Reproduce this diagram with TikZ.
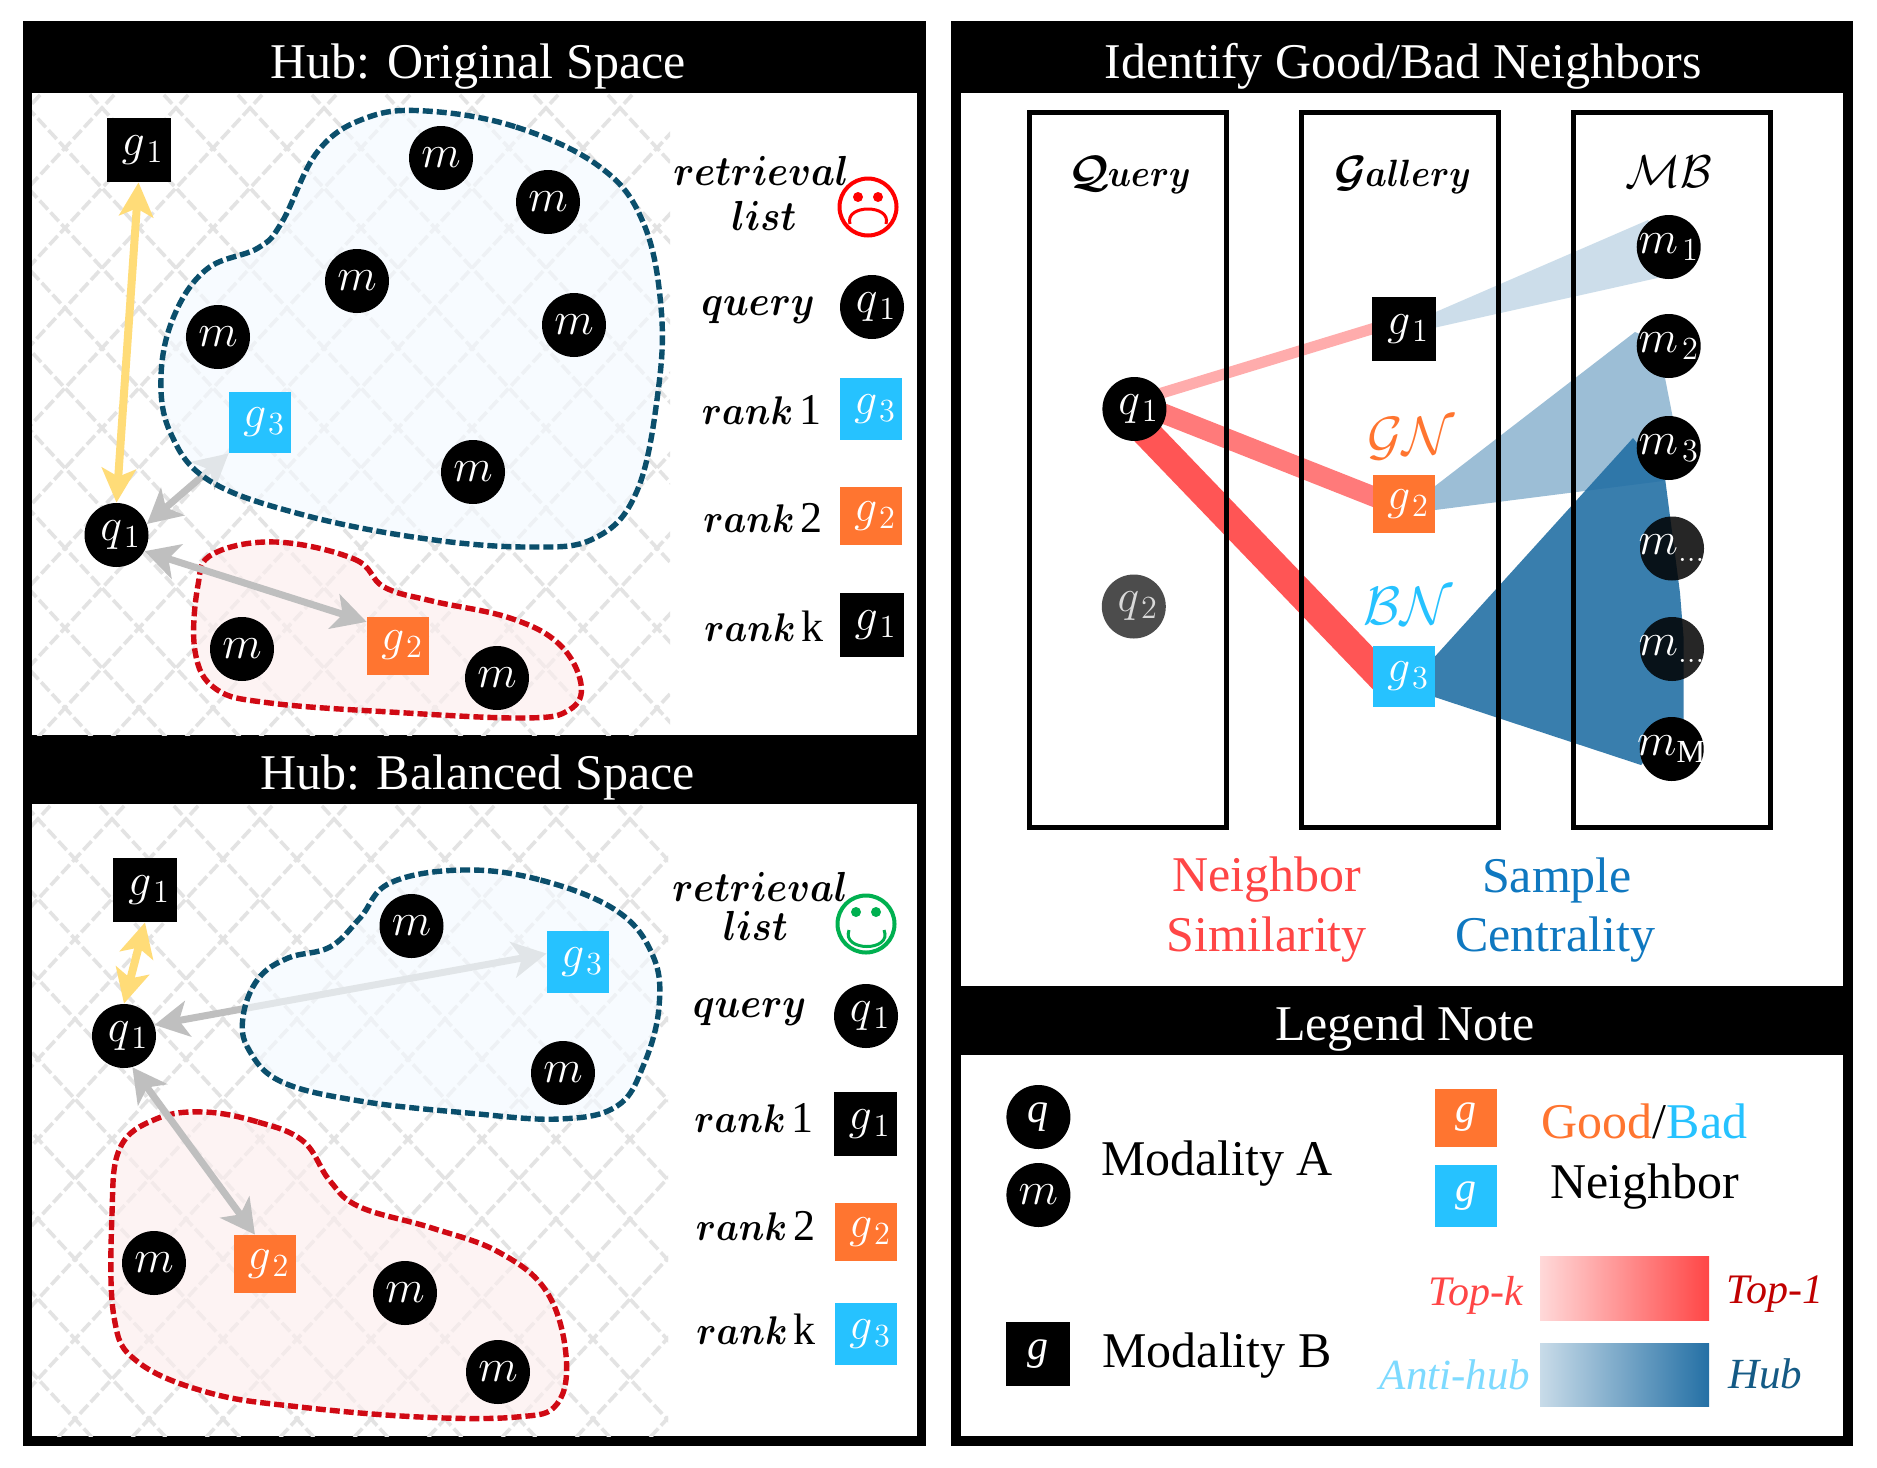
\RequirePackage{fix-cm}
\documentclass[tikz,border=0pt]{standalone}
\usepackage{fontspec}
\setmainfont{Liberation Serif}
\usepackage{amsmath}
\usepackage{graphicx}
\usetikzlibrary{arrows.meta}
\pgfdeclarelayer{lz}\pgfdeclarelayer{la}\pgfdeclarelayer{lb}\pgfdeclarelayer{lc}\pgfdeclarelayer{ld}
\pgfsetlayers{lz,la,lb,lc,ld,main}
\definecolor{cgood}{HTML}{FF7530}
\definecolor{cbad}{HTML}{26C2FF}
\definecolor{cyell}{HTML}{FFDC78}
\definecolor{cgray}{HTML}{BFBFBF}
\definecolor{chatch}{HTML}{E3E3E3}
\definecolor{cteal}{HTML}{0B4F6C}
\definecolor{cblob}{HTML}{D00A14}
\definecolor{cfan}{HTML}{2470A5}
\definecolor{cnb}{HTML}{FF4646}
\definecolor{csc}{HTML}{0F78C0}
\definecolor{csmile}{HTML}{00B050}
\definecolor{ctop}{HTML}{C00000}
\definecolor{chub}{HTML}{145A85}
\definecolor{cblue}{HTML}{F4FAFF}
\definecolor{cred}{HTML}{FCEEEE}
\newcommand{\ttl}{\fontsize{25}{30}\selectfont}
\newcommand{\mth}{\fontsize{23}{26}\selectfont}
\newcommand{\scrp}[1]{{\fontsize{21}{24}\selectfont\boldmath\scalebox{.9}[1]{$#1$}}}
\newcommand{\rnk}[1]{{\fontsize{20}{24}\selectfont\boldmath\scalebox{.9}[1]{$rank$}}\kern3pt{\fontsize{22}{24}\selectfont #1}}
\newcommand{\scrcap}[2]{{\fontsize{22}{26}\selectfont\boldmath$\mathcal{#1}$}\hspace{-1pt}{\fontsize{19}{22}\selectfont\boldmath\scalebox{.9}[1]{$#2$}}}
\newcommand{\sbx}[2]{\hspace{4pt}$#1_{\kern1.8pt #2}$}
\newcommand{\sbm}[2]{$#1_{\kern2pt #2}$}
\tikzset{
  x=0.5pt,y=-0.5pt,
  panel/.style={fill=black,draw=none},
  sheet/.style={fill=white,draw=none},
  title/.style={text=white,font=\ttl,inner sep=0pt},
  txt/.style={font=\ttl,inner sep=0pt},
  cnode/.style={circle,fill=black,text=white,minimum size=32pt,inner sep=-10pt,font=\mth},
  gnode/.style={rectangle,text=white,inner sep=0pt,font=\mth,minimum width=#1},
  gnode/.default=31pt,
  hatchline/.style={chatch,line width=1.8pt,dash pattern=on 6pt off 2pt},
  blueblob/.style={draw=cteal,line width=2.7pt,dash pattern=on 5pt off 2pt,fill=cblue,fill opacity=.65},
  redblob/.style={draw=cblob,line width=2.7pt,dash pattern=on 5pt off 2pt,fill=cred,fill opacity=.65},
  yellarrow/.style={cyell,line width=4pt,{Stealth[length=17pt,width=17pt,inset=4pt]}-{Stealth[length=17pt,width=17pt,inset=4pt]}},
  grayarrow/.style={cgray,line width=3.5pt,{Stealth[length=17pt,width=18pt,inset=4.5pt]}-{Stealth[length=17pt,width=18pt,inset=4.5pt]}},
  face/.style={circle,draw=#1,line width=2pt,minimum size=28.5pt,inner sep=0pt},
  fan/.style={fill=cfan,fill opacity=#1,draw=none},
  bar/.style={line width=#1,shorten <=-8pt,shorten >=-8pt},
  column/.style={draw=black,line width=2.5pt,minimum width=98.5pt,minimum height=357.5pt,inner sep=0pt},
}
\begin{document}
\begin{tikzpicture}
\useasboundingbox (0,0) rectangle (1877,1467);
\begin{pgfonlayer}{lz}
\fill[white] (0,0) rectangle (1877,1467);
\fill[panel] (23,21) rectangle (925.5,1446);
\fill[panel] (951,21) rectangle (1853,1446);
\fill[sheet] (32,93) rectangle (917,735);
\fill[sheet] (32,804) rectangle (917,1436);
\fill[sheet] (961,93) rectangle (1843,986);
\fill[sheet] (961,1055) rectangle (1843,1436);
\end{pgfonlayer}
\node[title] (t1) at (478,67) {Hub: Original Space};
\node[title] (t2) at (477.5,777) {Hub: Balanced Space};
\node[title] (t3) at (1403,66) {Identify Good/Bad Neighbors};
\node[title] (t4) at (1405,1029) {Legend Note};
% ---------- hatch
\begin{pgfonlayer}{la}
\begin{scope}
\clip (32,93) rectangle (670,735);
\foreach \k in {-14,...,22}{
 \draw[hatchline] ({102+74*\k-740},-692) -- ({102+74*\k+740},908);
 \draw[hatchline] ({102+74*\k+740},-692) -- ({102+74*\k-740},908);
}
\end{scope}
\begin{scope}
\clip (32,804) rectangle (668,1436);
\foreach \k in {-14,...,22}{
 \draw[hatchline] ({186+74*\k-740},19) -- ({186+74*\k+740},1619);
 \draw[hatchline] ({186+74*\k+740},19) -- ({186+74*\k-740},1619);
}
\end{scope}
\end{pgfonlayer}
% ---------- blobs
\begin{pgfonlayer}{lb}
\draw[redblob] plot[smooth cycle,tension=.65] coordinates {(276,542)(354,559)(384,587)(432,601)(510,618)(559,644)(581,684)(569,710)(523,718)(390,712)(270,703)(216,689)(195,651)(198,585)(213,554)};
\draw[redblob] plot[smooth cycle,tension=.65] coordinates {(204,1112)(258,1122)(303,1141)(330,1181)(360,1207)(432,1228)(498.5,1252)(546.5,1291.5)(566,1355)(557,1404)(516.5,1417)(420,1417)(300,1407)(210,1393)(138,1362)(114,1317)(112,1214)(120,1148)(156,1119)};
\end{pgfonlayer}
\begin{pgfonlayer}{ld}
\draw[blueblob] plot[smooth cycle,tension=.65] coordinates {(426,111)(516,127)(600,167)(643,222)(661,307)(658,392)(637,491)(595,538)(528,547)(420,538)(300,514)(210,481)(171,434)(161,377)(174,316)(207,269)(258,248)(282,222)(318,151)(366,118)};
\draw[blueblob] plot[smooth cycle,tension=.65] coordinates {(462,870)(540.5,880)(617,911)(653,956)(659,1007)(644,1064)(617,1106)(559,1119)(468,1113)(360,1101)(282,1082)(249,1050)(243,1017)(258,979)(288,958)(330,947)(360,918)(390,883)};
\end{pgfonlayer}
% ---------- panel 1 nodes
\node[cnode] (a1) at (441,158) {$m$};
\node[cnode] (a2) at (548,202) {$m$};
\node[cnode] (a3) at (357,281) {$m$};
\node[cnode] (a4) at (218,337) {$m$};
\node[cnode] (a5) at (574,325) {$m$};
\node[cnode] (a6) at (473,472) {$m$};
\node[cnode] (a7) at (242,649) {$m$};
\node[cnode] (a8) at (497,678) {$m$};
\node[cnode] (aq) at (116.5,535) {\sbx{q}{1}};
\node[gnode=32pt,fill=black,minimum height=32pt] (ag1) at (138.5,150) {\sbx{g}{1}};
\node[gnode,fill=cbad,minimum height=30.5pt] (ag3) at (260,422.5) {\sbx{g}{3}};
\node[gnode,fill=cgood,minimum height=29pt] (ag2) at (398,645.5) {\sbx{g}{2}};
\draw[yellarrow] (aq.north) -- (ag1.south);
\begin{pgfonlayer}{lc}
\draw[grayarrow] (aq.20) -- (ag3.south west);
\draw[grayarrow] (aq.-30) -- (ag2.143);
\end{pgfonlayer}
\node[inner sep=0pt] (ar) at (761,171) {\scrp{retrieval}};
\node[inner sep=0pt] (al) at (764,216) {\scrp{list}};
\node[face=red] (af) at (868,207) {};
\fill[red] (af.center)+(-10,-10) circle (2.5pt);
\fill[red] (af.center)+(10,-10) circle (2.5pt);
\draw[red,line width=1.5pt] (af.center)+(-18,17) .. controls +(-6,-20) and +(6,-20) .. +(18,17);
\node[inner sep=0pt] (aqt) at (758,310) {\scrp{query}};
\node[cnode] (aqq) at (872,307) {\sbx{q}{1}};
\node[inner sep=0pt] (ar1) at (761.5,410) {\rnk{1}};
\node[gnode,fill=cbad,minimum height=31pt] (ar1g) at (871,409) {\sbx{g}{3}};
\node[inner sep=0pt] (ar2) at (763,518) {\rnk{2}};
\node[gnode,fill=cgood,minimum height=29pt] (ar2g) at (871,516) {\sbx{g}{2}};
\node[inner sep=0pt] (ar3) at (764,626) {\rnk{k}};
\node[gnode=32pt,fill=black,minimum height=32pt] (ar3g) at (871.5,625) {\sbx{g}{1}};
% ---------- panel 2 nodes
\node[cnode] (b1) at (411.5,926) {$m$};
\node[cnode] (b2) at (563,1073) {$m$};
\node[cnode] (b3) at (154,1263) {$m$};
\node[cnode] (b4) at (405,1293) {$m$};
\node[cnode] (b5) at (498,1372) {$m$};
\node[cnode] (bq) at (124,1036) {\sbx{q}{1}};
\node[gnode=32pt,fill=black,minimum height=32pt] (bg1) at (145,890) {\sbx{g}{1}};
\node[gnode,fill=cbad,minimum height=31pt] (bg3) at (578,962) {\sbx{g}{3}};
\node[gnode,fill=cgood,minimum height=29pt] (bg2) at (264.5,1264) {\sbx{g}{2}};
\draw[yellarrow] (bq.north) -- (bg1.south);
\begin{pgfonlayer}{lc}
\draw[grayarrow] (bq.20) -- (bg3.165);
\draw[grayarrow] (bq.-75) -- (bg2.108);
\end{pgfonlayer}
\node[inner sep=0pt] (br) at (760,887) {\scrp{retrieval}};
\node[inner sep=0pt] (bl) at (755.5,926) {\scrp{list}};
\node[face=csmile] (bf) at (866,924) {};
\fill[csmile] (bf.center)+(-10,-12) circle (2.5pt);
\fill[csmile] (bf.center)+(10,-12) circle (2.5pt);
\draw[csmile,line width=1.5pt] (bf.center)+(-17,6) .. controls +(-8,22) and +(9,22) .. +(18,6);
\node[inner sep=0pt] (bqt) at (749.5,1012.5) {\scrp{query}};
\node[cnode] (bqq) at (866,1016) {\sbx{q}{1}};
\node[inner sep=0pt] (br1) at (754,1118) {\rnk{1}};
\node[gnode=31.5pt,fill=black,minimum height=32pt] (br1g) at (865.5,1124) {\sbx{g}{1}};
\node[inner sep=0pt] (br2) at (755.5,1226) {\rnk{2}};
\node[gnode,fill=cgood,minimum height=29pt] (br2g) at (866,1232) {\sbx{g}{2}};
\node[inner sep=0pt] (br3) at (756,1329) {\rnk{k}};
\node[gnode,fill=cbad,minimum height=31pt] (br3g) at (866,1334) {\sbx{g}{3}};
% ---------- right panel
\begin{pgfonlayer}{lc}
\node[column] (cq) at (1127.7,470) {};
\node[column] (cg) at (1400,470) {};
\node[column] (cm) at (1671.5,470) {};
\end{pgfonlayer}
\node[inner sep=0pt] (cqt) at (1129.6,175) {\scrcap{Q}{uery}};
\node[inner sep=0pt] (cgt) at (1403,175) {\scrcap{G}{allery}};
\node[inner sep=0pt] (cmt) at (1669,172) {{\fontsize{23}{26}\selectfont$\mathcal{MB}$}};
\node[cnode] (q1) at (1134.4,409) {\sbx{q}{1}};
\node[cnode,fill=black!70,text=white!85!black] (q2) at (1133.8,606.5) {\sbx{q}{2}};
\node[gnode=32pt,fill=black,minimum height=32pt] (g1) at (1404,329) {\sbx{g}{1}};
\node[gnode,fill=cgood,minimum height=29pt] (g2) at (1404,504) {\sbx{g}{2}};
\node[gnode,fill=cbad,minimum height=30.5pt] (g3) at (1404,676.5) {\sbx{g}{3}};
\node[inner sep=0pt,text=cgood] (gn) at (1411,439) {{\fontsize{27}{30}\selectfont$\mathcal{GN}$}};
\node[inner sep=0pt,text=cbad] (bn) at (1408,606) {{\fontsize{27}{30}\selectfont$\mathcal{BN}$}};
\node[cnode] (m1) at (1668.7,247) {\sbm{m}{1}};
\node[cnode] (m2) at (1668.7,346) {\sbm{m}{2}};
\node[cnode] (m3) at (1668.7,448) {\sbm{m}{3}};
\node[cnode,fill opacity=.85,text opacity=1] (m4) at (1672,548.5) {$m_{...}$};
\node[cnode,fill opacity=.85,text opacity=1] (m5) at (1672,649) {$m_{...}$};
\node[cnode] (m6) at (1671.7,749) {{$m_{\mathrm{M}}$}};
\begin{pgfonlayer}{la}
\fill[fan=.23] (1433.4,313) -- (1648,220) -- (m1.center) -- (1662,277) -- (1433.4,328) -- cycle;
\fill[fan=.45] (1432.5,488) -- (1635,332) -- (m2.center) -- (1665,378) -- (1672.7,417) -- (1663,481) -- (1435,510) -- cycle;
\fill[fan=.9] (1434.5,657) -- (1633,438) -- (1665,478) -- (1680,593) -- (1683.6,638) -- (1683.6,720) -- (1641,765) -- (1434.5,697) -- cycle;
\end{pgfonlayer}
\begin{pgfonlayer}{lb}
\draw[bar=5.5pt,color=cnb!45!white] (q1.30) -- (g1.west);
\draw[bar=10pt,color=cnb!72!white] (q1.-10) -- (g2.166);
\draw[bar=14.5pt,color=cnb!92!white] (q1.-60) -- (g3.165);
\end{pgfonlayer}
\node[txt,text=cnb] (n1) at (1266.8,880) {Neighbor};
\node[txt,text=cnb] (n2) at (1266.8,940) {Similarity};
\node[txt,text=csc] (s1) at (1557,880) {Sample};
\node[txt,text=csc] (s2) at (1555,940) {Centrality};
% ---------- legend
\node[cnode,font=\fontsize{21}{24}\selectfont\itshape] (lq) at (1038.4,1117) {q};
\node[cnode] (lm) at (1038.4,1195) {$m$};
\node[gnode=32pt,fill=black,minimum height=32pt,font=\fontsize{21}{24}\selectfont\itshape] (lg) at (1038.4,1354) {g};
\node[txt] (la) at (1217,1164) {Modality A};
\node[txt] (lb) at (1217,1356) {Modality B};
\node[gnode,fill=cgood,minimum height=29pt,font=\fontsize{21}{24}\selectfont\itshape] (lgg) at (1466,1117.5) {g};
\node[gnode,fill=cbad,minimum height=31pt,font=\fontsize{21}{24}\selectfont\itshape] (lgb) at (1466,1196) {g};
\node[txt] (lgood) at (1644.6,1121) {\textcolor{cgood}{Good}/\textcolor{cbad}{Bad}};
\node[txt] (lnb) at (1644.6,1187) {Neighbor};
\node[minimum width=84.5pt,minimum height=32pt,inner sep=0pt,left color=red!15!white,right color=cnb] (lr) at (1624.6,1288) {};
\node[minimum width=84.5pt,minimum height=31.5pt,inner sep=0pt,left color=cfan!25!white,right color=cfan] (lh) at (1624.6,1374.5) {};
\node[inner sep=0pt,text=cnb,font=\fontsize{21}{24}\selectfont\itshape] (tk) at (1476,1295) {Top-k};
\node[inner sep=0pt,text=ctop,font=\fontsize{21}{24}\selectfont\itshape] (t1k) at (1775,1294) {Top-1};
\node[inner sep=0pt,text=cbad!60!white,font=\fontsize{21.5}{24}\selectfont\itshape] (ah) at (1455,1375) {Anti-hub};
\node[inner sep=0pt,text=chub,font=\fontsize{21.5}{24}\selectfont\itshape] (hb) at (1765,1374) {Hub};
\end{tikzpicture}
\end{document}
